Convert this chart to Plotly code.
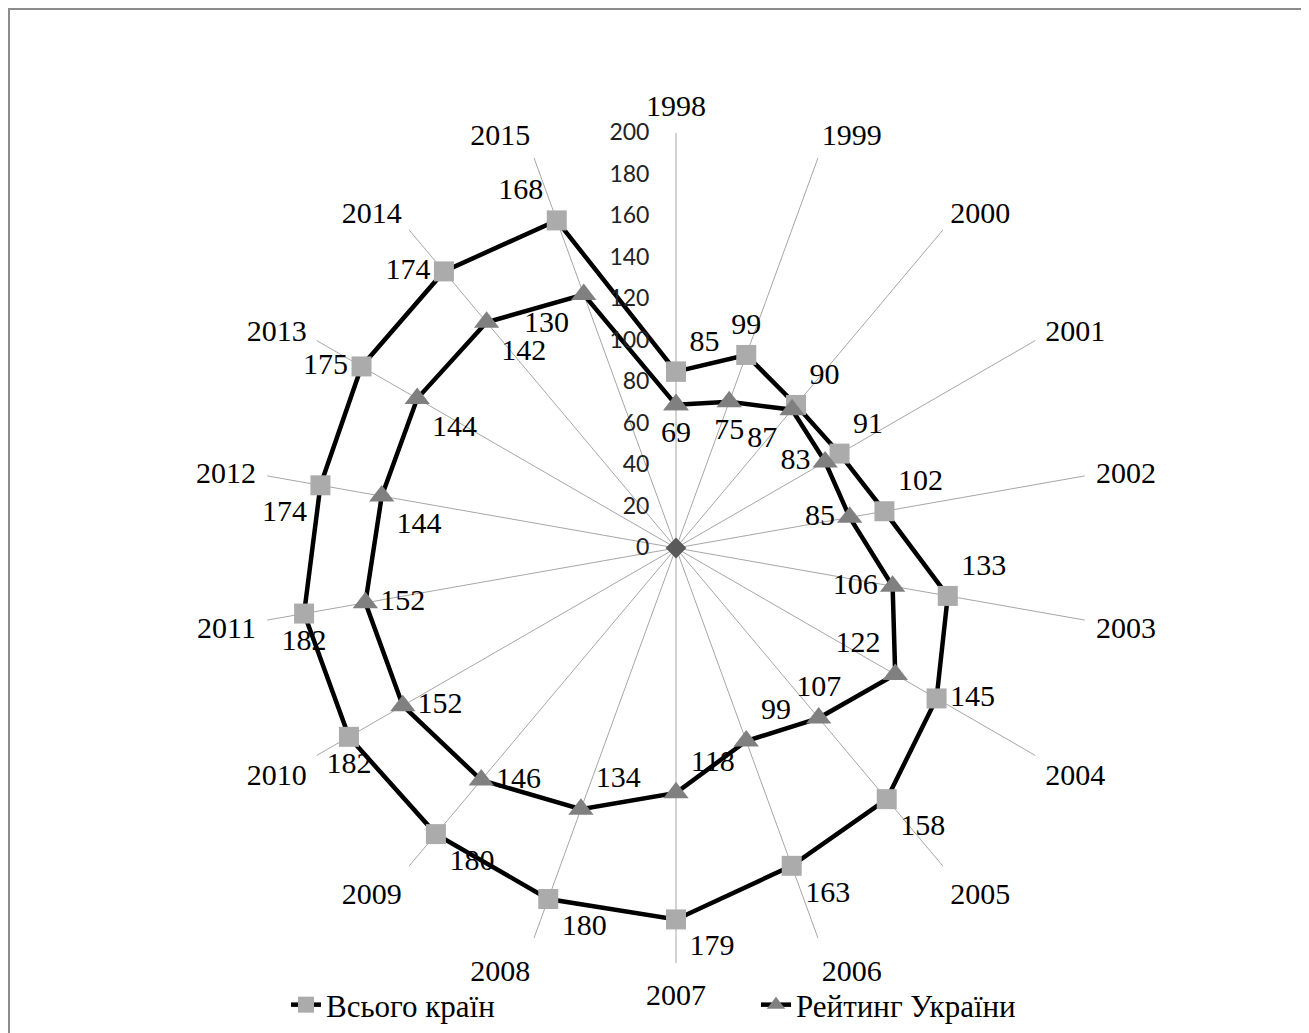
import plotly.graph_objects as go

years = [str(y) for y in range(1998, 2016)]
total_countries = [85, 99, 90, 91, 102, 133, 145, 158, 163, 179, 180, 180, 182, 182, 174, 175, 174, 168]
ukraine_rank = [69, 75, 87, 83, 85, 106, 122, 107, 99, 118, 134, 146, 152, 152, 144, 144, 142, 130]
center_values = [0]
radial_ticks = list(range(0, 201, 20))
R_MAX = 200

total_pos = ["top right", "top center", "top right", "top right", "top right", "top right",
             "middle right", "bottom right", "bottom right", "bottom right", "bottom right",
             "bottom right", "bottom center", "bottom center", "bottom left", "middle left",
             "middle left", "top left"]
ukr_pos = ["bottom center", "bottom center", "bottom left", "middle left", "middle left",
           "middle left", "top left", "top center", "top right", "top right", "top right",
           "middle right", "middle right", "middle right", "bottom right", "bottom right",
           "bottom right", "bottom left"]

SERIF = "Liberation Serif"
W, H = 1309, 1033
OFF = 8  # page body margin offset
cx, cy, R = 676 - OFF, 548 - OFF, 415

fig = go.Figure()
fig.add_trace(go.Scatterpolar(
    r=total_countries + total_countries[:1], theta=years + years[:1],
    mode="lines+markers+text", name="Всього країн",
    line=dict(color="black", width=4.5),
    marker=dict(symbol="square", size=20, color="#ABABAB"),
    text=[str(v) for v in total_countries] + [""],
    textposition=total_pos + ["top right"],
    textfont=dict(family=SERIF, size=30, color="black"),
    cliponaxis=False,
))
fig.add_trace(go.Scatterpolar(
    r=ukraine_rank + ukraine_rank[:1], theta=years + years[:1],
    mode="lines+markers+text", name="Рейтинг України",
    line=dict(color="black", width=4.5),
    marker=dict(symbol="triangle-up", size=22, color="#808080"),
    text=[str(v) for v in ukraine_rank] + [""],
    textposition=ukr_pos + ["bottom center"],
    textfont=dict(family=SERIF, size=30, color="black"),
    cliponaxis=False,
))
fig.add_trace(go.Scatterpolar(
    r=center_values, theta=years[:1], mode="markers", showlegend=False,
    marker=dict(symbol="diamond", size=16, color="#5A5A5A"),
))

fig.update_layout(
    width=W, height=H,
    margin=dict(l=0, r=0, t=0, b=0),
    paper_bgcolor="white",
    font=dict(family=SERIF, size=30, color="black"),
    polar=dict(
        domain=dict(x=[(cx - R) / W, (cx + R) / W], y=[1 - (cy + R) / H, 1 - (cy - R) / H]),
        bgcolor="white",
        radialaxis=dict(range=[0, R_MAX], tickvals=radial_ticks, showgrid=False, showline=False,
                        angle=90, side="counterclockwise", ticks="outside", ticklen=18,
                        tickcolor="rgba(0,0,0,0)", tickangle=90,
                        tickfont=dict(family="Lato", size=23, color="#222222")),
        angularaxis=dict(categoryorder="array", categoryarray=years, rotation=90,
                         direction="clockwise", showline=False, showgrid=True,
                         gridcolor="#A6A6A6", gridwidth=1, ticks="outside", ticklen=5,
                         tickcolor="rgba(0,0,0,0)",
                         tickfont=dict(family=SERIF, size=30, color="black")),
    ),
    showlegend=True,
    legend=dict(orientation="h", x=278 / W, y=1 - (1005 - OFF) / H, xanchor="left",
                yanchor="middle", entrywidth=425, entrywidthmode="pixels",
                font=dict(family=SERIF, size=31, color="black"), bgcolor="rgba(0,0,0,0)"),
    shapes=[dict(type="rect", xref="paper", yref="paper", x0=1 / W, x1=(1303 - OFF) / W,
                 y0=-0.05, y1=1 - 1 / H, line=dict(color="#8C8C8C", width=2))],
)

fig.write_html("out.html")
